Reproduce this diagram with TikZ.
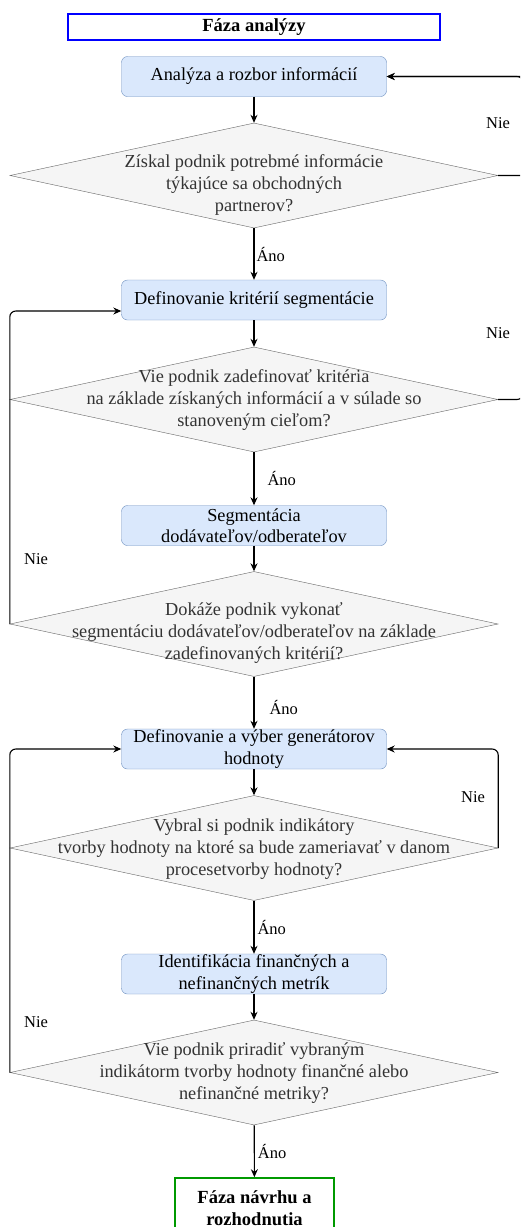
\documentclass[tikz,border=0pt]{standalone}
\usepackage{fontspec}
\setmainfont{Liberation Serif}
\usetikzlibrary{shapes.geometric,arrows.meta,positioning}

\definecolor{boxfill}{HTML}{DAE8FC}
\definecolor{boxline}{HTML}{6C8EBF}
\definecolor{decfill}{HTML}{F5F5F5}
\definecolor{decline}{HTML}{666666}
\definecolor{dectext}{HTML}{333333}
\definecolor{phaseend}{HTML}{009900}

\tikzset{
  phase/.style={draw,line width=1.6pt,minimum height=26pt,inner sep=1pt,
    align=center,font=\fontsize{18.5}{22}\selectfont\bfseries},
  process/.style={draw=boxline,fill=boxfill,rounded corners=6pt,
    minimum width=265pt,minimum height=40pt,inner sep=0pt,align=center,
    font=\fontsize{18.3}{21.5}\selectfont},
  decision/.style={diamond,draw=decline,fill=decfill,minimum width=488pt,
    minimum height=105pt,inner sep=0pt},
  dectxt/.style={align=center,text=dectext,font=\fontsize{18.3}{22}\selectfont},
  answer/.style={font=\fontsize{16.5}{18}\selectfont,inner sep=1pt},
  flow/.style={line width=1.1pt,-{Stealth[length=8pt,width=7pt]}},
}

\begin{document}
\begin{tikzpicture}[x=1pt,y=-1pt]
  \clip (0,0) rectangle (520,1227);
  \fill[white] (0,0) rectangle (520,1227);

  % blocks
  \node[phase,draw=blue,minimum width=372pt] (faza1) at (254,27) {Fáza analýzy};
  \node[process] (b1) at (254,76.5) {Analýza a rozbor informácií};
  \node[decision] (d1) at (254,175.5) {};
  \node[dectxt] (d1t) at (254,185) {Získal podnik potrebmé informácie\\týkajúce sa obchodných\\partnerov?};
  \node[process] (b2) at (254,300) {Definovanie kritérií segmentácie};
  \node[decision] (d2) at (254,399.5) {};
  \node[dectxt] (d2t) at (254,400) {Vie podnik zadefinovať kritéria\\na základe získaných informácií a v súlade so\\stanoveným cieľom?};
  \node[process] (b3) at (254,525.5) {Segmentácia\\dodávateľov/odberateľov};
  \node[decision] (d3) at (254,624) {};
  \node[dectxt] (d3t) at (254,633) {Dokáže podnik vykonať\\segmentáciu dodávateľov/odberateľov na základe\\zadefinovaných kritérií?};
  \node[process] (b4) at (254,749) {Definovanie a výber generátorov\\hodnoty};
  \node[decision] (d4) at (254,848) {};
  \node[dectxt] (d4t) at (254,849) {Vybral si podnik indikátory\\tvorby hodnoty na ktoré sa bude zameriavať v danom\\procesetvorby hodnoty?};
  \node[process] (b5) at (254,974) {Identifikácia finančných a\\nefinančných metrík};
  \node[decision] (d5) at (254,1072.5) {};
  \node[dectxt] (d5t) at (254,1073) {Vie podnik priradiť vybraným\\indikátorm tvorby hodnoty finančné alebo\\nefinančné metriky?};
  \node[phase,draw=phaseend,minimum width=159pt,minimum height=60pt] (faza2) at (254.5,1208) {Fáza návrhu a\\rozhodnutia};

  % main flow
  \draw[flow] (b1) -- (d1);
  \draw[flow] (d1) -- node[answer,right,pos=0.5,xshift=1pt] (a1) {Áno} (b2);
  \draw[flow] (b2) -- (d2);
  \draw[flow] (d2) -- node[answer,right,pos=0.5,xshift=12pt] (a2) {Áno} (b3);
  \draw[flow] (b3) -- (d3);
  \draw[flow] (d3) -- node[answer,right,pos=0.6,xshift=14pt] (a3) {Áno} (b4);
  \draw[flow] (b4) -- (d4);
  \draw[flow] (d4) -- node[answer,right,pos=0.5,xshift=2pt] (a4) {Áno} (b5);
  \draw[flow] (b5) -- (d5);
  \draw[flow] (d5) -- node[answer,right,pos=0.5,xshift=2pt] (a5) {Áno} (faza2);

  % loops back
  \draw[flow,rounded corners=6pt] (d1.east) -- (532,175.5) |- (b1.east);
  \draw[flow,rounded corners=6pt] (d2.east) -- (523,399.5) |- (b1.east);
  \draw[flow,rounded corners=6pt] (d3.west) |- ([yshift=-11pt]b2.west);
  \draw[flow,rounded corners=6pt] (d4.east) |- (b4.east);
  \draw[flow,rounded corners=6pt] (d5.west) |- (b4.west);

  \node[answer] (n1) at (498,123) {Nie};
  \node[answer] (n2) at (498,333) {Nie};
  \node[answer] (n3) at (36,559) {Nie};
  \node[answer] (n4) at (473,797) {Nie};
  \node[answer] (n5) at (36,1022) {Nie};
\end{tikzpicture}
\end{document}
